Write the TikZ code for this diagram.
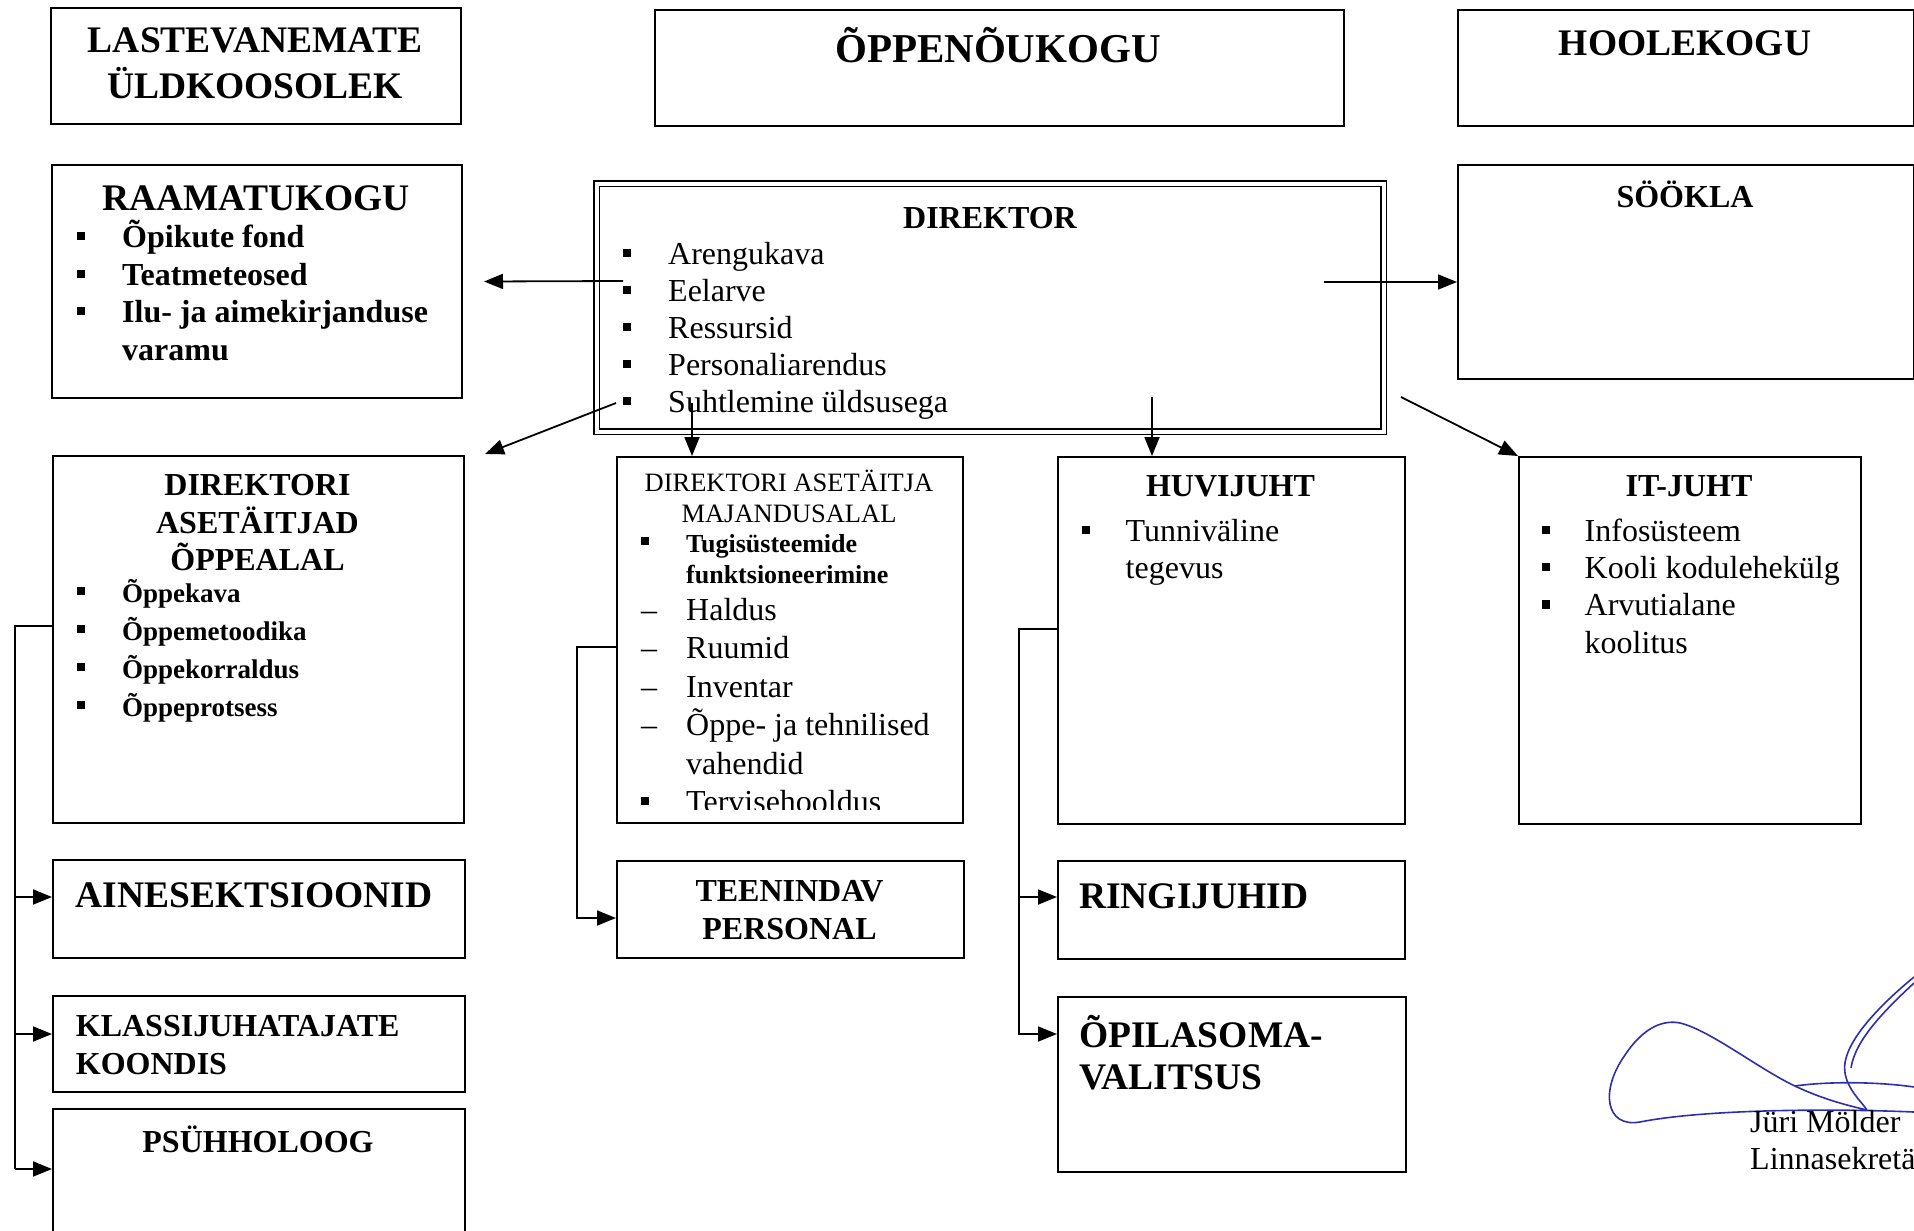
\documentclass[tikz,border=0pt]{standalone}
\usepackage{fontspec}
\setmainfont{Liberation Serif}
\usetikzlibrary{arrows.meta,calc}
\definecolor{sigblue}{RGB}{45,45,175}
\newcommand{\sq}{\rule[7pt]{7.5pt}{8.5pt}}
\newcommand{\bul}[1][45pt]{\makebox[#1][l]{\sq}}
\newcommand{\dsh}[1][45pt]{\makebox[#1][l]{–}}
\newcommand{\fT}{\fontsize{37.5}{43}\selectfont\bfseries}
\newcommand{\fTT}{\fontsize{41}{47}\selectfont\bfseries}
\newcommand{\fB}{\fontsize{32}{38}\selectfont\bfseries}
\newcommand{\fR}{\fontsize{32}{38}\selectfont}
\newcommand{\fS}{\fontsize{27}{32}\selectfont\bfseries}
\newcommand{\fSR}{\fontsize{26.5}{31}\selectfont}
\newcommand{\fSB}{\fontsize{26}{31}\selectfont\bfseries}
\begin{document}
\begin{tikzpicture}[x=1pt,y=-1pt,
  box/.style={draw, line width=2pt, inner sep=0pt, anchor=north west},
  txt/.style={inner sep=0pt, anchor=base west},
  ctr/.style={inner sep=0pt, anchor=base},
  ln/.style={line width=1.8pt},
  arr/.style={line width=1.8pt, -{Triangle[length=19pt,width=15pt]}},
  sig/.style={sigblue, line width=1.6pt}]
\useasboundingbox (0,0) rectangle (1914,1231);
\clip (0,0) rectangle (1914,1231);

% top row
\node[box,minimum width=410pt,minimum height=116pt] (last) at (50,7) {};
\node[ctr,font=\fT] (lastt1) at (255,53) {LASTEVANEMATE};
\node[ctr,font=\fT] (lastt2) at (255,98) {ÜLDKOOSOLEK};

\node[box,minimum width=689pt,minimum height=116pt] (opn) at (654,9) {};
\node[ctr,font=\fTT] (opnt) at (998,63) {ÕPPENÕUKOGU};

\node[box,minimum width=456pt,minimum height=116pt] (hool) at (1457,9) {};
\node[ctr,font=\fT] (hoolt) at (1685,56) {HOOLEKOGU};

% second row
\node[box,minimum width=410pt,minimum height=233pt] (raam) at (51,164) {};
\node[ctr,font=\fT] (raamt) at (256,210) {RAAMATUKOGU};
\node[txt,font=\fB] (raam1) at (77,247) {\bul Õpikute fond};
\node[txt,font=\fB] (raam2) at (77,285) {\bul Teatmeteosed};
\node[txt,font=\fB] (raam3) at (77,322) {\bul Ilu- ja aimekirjanduse};
\node[txt,font=\fB] (raam4) at (122,360) {varamu};

\node[box,minimum width=787pt,minimum height=248pt,double,double distance=3.5pt,line width=1.8pt] (dir) at (596,183) {};
\node[ctr,font=\fB] (dirt) at (990,228) {DIREKTOR};
\node[txt,font=\fR] (dir1) at (623,264) {\bul Arengukava};
\node[txt,font=\fR] (dir2) at (623,301) {\bul Eelarve};
\node[txt,font=\fR] (dir3) at (623,338) {\bul Ressursid};
\node[txt,font=\fR] (dir4) at (623,375) {\bul Personaliarendus};
\node[txt,font=\fR] (dir5) at (623,412) {\bul Suhtlemine üldsusega};

\node[box,minimum width=456pt,minimum height=214pt] (sook) at (1457,164) {};
\node[ctr,font=\fB] (sookt) at (1685,207) {SÖÖKLA};

% third row
\node[box,minimum width=411pt,minimum height=367pt] (dira) at (52,455) {};
\node[ctr,font=\fB] (dirat1) at (257.5,495) {DIREKTORI};
\node[ctr,font=\fB] (dirat2) at (257.5,533) {ASETÄITJAD};
\node[ctr,font=\fB] (dirat3) at (257.5,570) {ÕPPEALAL};
\node[txt,font=\fS] (dira1) at (77,602) {\bul Õppekava};
\node[txt,font=\fS] (dira2) at (77,640) {\bul Õppemetoodika};
\node[txt,font=\fS] (dira3) at (77,678) {\bul Õppekorraldus};
\node[txt,font=\fS] (dira4) at (77,716) {\bul Õppeprotsess};

\node[box,minimum width=346pt,minimum height=366pt] (maj) at (616,456) {};
\node[ctr,font=\fSR] (majt1) at (789,491) {DIREKTORI ASETÄITJA};
\node[ctr,font=\fSR] (majt2) at (789,522) {MAJANDUSALAL};
\node[txt,font=\fSB] (maj1) at (641,552) {\bul Tugisüsteemide};
\node[txt,font=\fSB] (maj2) at (686,583) {funktsioneerimine};
\node[txt,font=\fR] (maj3) at (641,620) {\dsh Haldus};
\node[txt,font=\fR] (maj4) at (641,658.5) {\dsh Ruumid};
\node[txt,font=\fR] (maj5) at (641,697) {\dsh Inventar};
\node[txt,font=\fR] (maj6) at (641,735.5) {\dsh Õppe- ja tehnilised};
\node[txt,font=\fR] (maj7) at (686,774) {vahendid};
\begin{scope}
\clip (616,456) rectangle (962,809);
\node[txt,font=\fR] (maj8) at (641,812) {\bul Tervisehooldus};
\end{scope}

\node[box,minimum width=347pt,minimum height=367pt] (huvi) at (1057,456) {};
\node[ctr,font=\fB] (huvit) at (1230.5,496.5) {HUVIJUHT};
\node[txt,font=\fR] (huvi1) at (1082,541) {\bul[43.5pt]Tunniväline};
\node[txt,font=\fR] (huvi2) at (1125.5,578.5) {tegevus};

\node[box,minimum width=342pt,minimum height=367pt] (it) at (1518,456) {};
\node[ctr,font=\fB] (itt) at (1689,496.5) {IT-JUHT};
\node[txt,font=\fR] (it1) at (1542,541) {\bul[42.5pt]Infosüsteem};
\node[txt,font=\fR] (it2) at (1542,578) {\bul[42.5pt]Kooli kodulehekülg};
\node[txt,font=\fR] (it3) at (1542,615.5) {\bul[42.5pt]Arvutialane};
\node[txt,font=\fR] (it4) at (1584.5,653) {koolitus};

% fourth row
\node[box,minimum width=412pt,minimum height=98pt] (aine) at (52,859) {};
\node[txt,font=\fT] (ainet) at (75.7,907) {AINESEKTSIOONID};

\node[box,minimum width=347pt,minimum height=97pt] (teen) at (616,860) {};
\node[ctr,font=\fB] (teent1) at (789.5,901.5) {TEENINDAV};
\node[ctr,font=\fB] (teent2) at (789.5,939.5) {PERSONAL};

\node[box,minimum width=347pt,minimum height=98pt] (ring) at (1057,860) {};
\node[txt,font=\fT] (ringt) at (1079,908) {RINGIJUHID};

\node[box,minimum width=412pt,minimum height=96pt] (klass) at (52,995) {};
\node[txt,font=\fB] (klasst1) at (75.7,1036) {KLASSIJUHATAJATE};
\node[txt,font=\fB] (klasst2) at (75.7,1074) {KOONDIS};

\node[box,minimum width=412pt,minimum height=140pt] (psuh) at (52,1108) {};
\node[ctr,font=\fB] (psuht) at (258,1152) {PSÜHHOLOOG};

\node[box,minimum width=348pt,minimum height=175pt] (opil) at (1057,996) {};
\node[txt,font=\fT] (opilt1) at (1079,1047) {ÕPILASOMA-};
\node[txt,font=\fT] (opilt2) at (1079,1089) {VALITSUS};

% connectors from DIREKTOR
\coordinate (a1s) at (623,281);
\coordinate (a2s) at (1324,282);
\coordinate (a3s) at (616,403);
\coordinate (a3e) at (485,454);
\coordinate (a4s) at (692,403);
\coordinate (a5s) at (1152,397);
\coordinate (a6s) at (1401,397);
\draw[arr] (a1s) -- ([xshift=21pt]raam.east);
\draw[arr] (a2s) -- (a2s -| sook.west);
\draw[arr] (a3s) -- (a3e);
\draw[arr] (a4s) -- (a4s |- maj.north);
\draw[arr] (a5s) -- (a5s |- huvi.north);
\draw[arr] (a6s) -- (it.north west);

% elbow connectors
\coordinate (L0) at (15,626);
\coordinate (L1) at (15,897);
\coordinate (L2) at (15,1034);
\coordinate (L3) at (15,1169);
\draw[ln] (L0 -| dira.west) -- (L0) -- (L3);
\draw[arr] (L1) -- (L1 -| aine.west);
\draw[arr] (L2) -- (L2 -| klass.west);
\draw[arr] (L3) -- (L3 -| psuh.west);

\coordinate (M0) at (577,647);
\coordinate (M1) at (577,918);
\draw[arr] (M0 -| maj.west) -- (M0) -- (M1) -- (M1 -| teen.west);

\coordinate (R0) at (1019,629);
\coordinate (R1) at (1019,897);
\coordinate (R2) at (1019,1034);
\draw[arr] (R0 -| huvi.west) -- (R0) -- (R2) -- (R2 -| opil.west);
\draw[arr] (R1) -- (R1 -| ring.west);

% signature
\draw[sig] (1914,1112) .. controls (1820,1108) and (1700,1110) .. (1640,1122)
  .. controls (1605,1128) and (1600,1090) .. (1625,1055)
  .. controls (1645,1025) and (1665,1020) .. (1680,1023)
  .. controls (1710,1030) and (1760,1070) .. (1797,1087)
  .. controls (1825,1100) and (1850,1106) .. (1867,1110);
\draw[sig] (1795,1086) .. controls (1830,1081) and (1880,1082) .. (1914,1087);
\draw[sig] (1914,977) .. controls (1880,1005) and (1840,1045) .. (1845,1073)
  .. controls (1848,1090) and (1860,1100) .. (1867,1110);
\draw[sig] (1914,983) .. controls (1885,1010) and (1855,1040) .. (1851,1068);
\node[txt,font=\fR] (signame) at (1750,1132) {Jüri Mölder};
\node[txt,font=\fR] (sigrole) at (1750,1169) {Linnasekretär};
\end{tikzpicture}
\end{document}
